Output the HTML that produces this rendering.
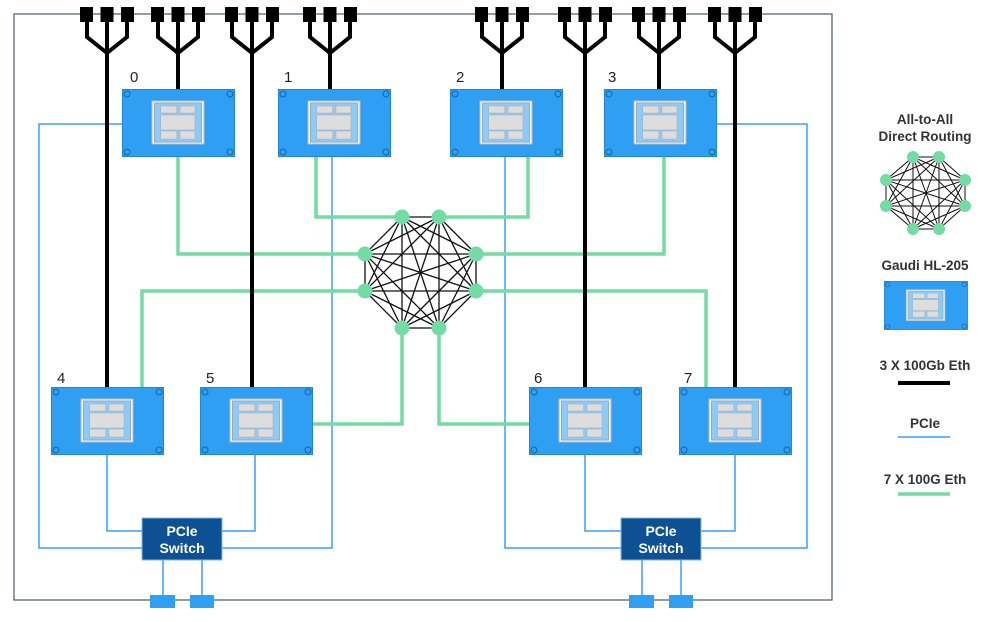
<!DOCTYPE html>
<html><head><meta charset="utf-8"><style>
html,body{margin:0;padding:0;background:#fff}
svg{display:block}
text{font-family:"Liberation Sans",sans-serif}
</style></head><body>
<svg width="999" height="622" viewBox="0 0 999 622" xmlns="http://www.w3.org/2000/svg">
<defs>
<g id="card">
<rect x="0.5" y="0.5" width="112" height="67" fill="#2f9ff4" stroke="#1f86d8" stroke-width="1"/>
<circle cx="5" cy="5" r="3" fill="none" stroke="#1565a8" stroke-width="1"/>
<circle cx="108" cy="5" r="3" fill="none" stroke="#1565a8" stroke-width="1"/>
<circle cx="5" cy="63" r="3" fill="none" stroke="#1565a8" stroke-width="1"/>
<circle cx="108" cy="63" r="3" fill="none" stroke="#1565a8" stroke-width="1"/>
<rect x="30" y="12" width="52" height="43" fill="#f4f4f4" stroke="#bbb"/>
<rect x="32.5" y="14" width="47" height="39" fill="#8ccbf8" stroke="#9ab"/>
<rect x="38.7" y="17" width="16" height="7" fill="#ddd" stroke="#aaa" stroke-width=".5"/>
<rect x="58" y="17" width="15" height="7" fill="#ddd" stroke="#aaa" stroke-width=".5"/>
<rect x="38.7" y="26" width="34.3" height="15" fill="#ddd" stroke="#aaa" stroke-width=".5"/>
<rect x="38.7" y="42" width="16" height="8" fill="#ddd" stroke="#aaa" stroke-width=".5"/>
<rect x="58" y="42" width="15" height="8" fill="#ddd" stroke="#aaa" stroke-width=".5"/>
</g>
<g id="trident" fill="none" stroke="#000" stroke-width="4">
<path d="M-20 14 V37 L0 53 L20 37 V14 M0 14 V53"/>
<rect x="-27" y="7" width="13" height="15" fill="#000" stroke="none"/>
<rect x="-6.5" y="7" width="13" height="15" fill="#000" stroke="none"/>
<rect x="14" y="7" width="13" height="15" fill="#000" stroke="none"/>
</g>
</defs>

<!-- frame -->
<rect x="14" y="14" width="818" height="586" fill="none" stroke="#4a5a68" stroke-width="1.2"/>

<!-- PCIe blue lines -->
<g fill="none" stroke="#3aa0f0" stroke-width="1.5">
<path d="M122 124 H39 V548 H142"/>
<path d="M107 455 V531 H142"/>
<path d="M255 455 V531 H222"/>
<path d="M332 157 V548 H222"/>
<path d="M163 560 V600 M202 560 V600"/>
<path d="M505 157 V548 H621"/>
<path d="M717 124 H807 V548 H701"/>
<path d="M585 455 V531 H621"/>
<path d="M735 455 V531 H701"/>
<path d="M642 560 V600 M681 560 V600"/>
</g>

<!-- green lines -->
<g fill="none" stroke="#72dca2" stroke-width="3.5">
<path d="M178 157 V254 H365"/>
<path d="M316 157 V217 H402"/>
<path d="M528 157 V217 H439"/>
<path d="M664 157 V254 H476"/>
<path d="M142 387 V291 H365"/>
<path d="M313 424 H402 V328"/>
<path d="M529 424 H439 V328"/>
<path d="M706 387 V291 H476"/>
</g>

<!-- black eth lines -->
<g stroke="#000" stroke-width="4">
<line x1="107" y1="53" x2="107" y2="387"/>
<line x1="178" y1="53" x2="178" y2="89"/>
<line x1="252" y1="53" x2="252" y2="387"/>
<line x1="330" y1="53" x2="330" y2="89"/>
<line x1="502" y1="53" x2="502" y2="89"/>
<line x1="585" y1="53" x2="585" y2="387"/>
<line x1="659" y1="53" x2="659" y2="89"/>
<line x1="735" y1="53" x2="735" y2="387"/>
</g>
<use href="#trident" x="107" y="0"/>
<use href="#trident" x="178" y="0"/>
<use href="#trident" x="252" y="0"/>
<use href="#trident" x="330" y="0"/>
<use href="#trident" x="502" y="0"/>
<use href="#trident" x="585" y="0"/>
<use href="#trident" x="659" y="0"/>
<use href="#trident" x="735" y="0"/>

<!-- cards -->
<use href="#card" x="122" y="89"/>
<use href="#card" x="278" y="89"/>
<use href="#card" x="450" y="89"/>
<use href="#card" x="604" y="89"/>
<use href="#card" x="51" y="387"/>
<use href="#card" x="200" y="387"/>
<use href="#card" x="529" y="387"/>
<use href="#card" x="679" y="387"/>
<g font-size="15" fill="#222">
<text x="130" y="82">0</text>
<text x="284" y="82">1</text>
<text x="456" y="82">2</text>
<text x="608" y="82">3</text>
<text x="57" y="383">4</text>
<text x="206" y="383">5</text>
<text x="534" y="383">6</text>
<text x="684" y="383">7</text>
</g>

<!-- switches -->
<g>
<rect x="142" y="518" width="80" height="42" fill="#0d5194" stroke="#7fb8ea"/>
<text x="182" y="536" font-size="14" font-weight="bold" fill="#fff" text-anchor="middle">PCIe</text>
<text x="182" y="553" font-size="14" font-weight="bold" fill="#fff" text-anchor="middle">Switch</text>
<rect x="621" y="518" width="80" height="42" fill="#0d5194" stroke="#7fb8ea"/>
<text x="661" y="536" font-size="14" font-weight="bold" fill="#fff" text-anchor="middle">PCIe</text>
<text x="661" y="553" font-size="14" font-weight="bold" fill="#fff" text-anchor="middle">Switch</text>
<g fill="#2f9ff4">
<rect x="150" y="595" width="25" height="13"/>
<rect x="190" y="595" width="24" height="13"/>
<rect x="629" y="595" width="25" height="13"/>
<rect x="669" y="595" width="24" height="13"/>
</g>
</g>

<!-- main octagon -->
<g stroke="#111" stroke-width="1.3" id="oct">
<path d="M402 217L439 217L476 254L476 291L439 328L402 328L365 291L365 254Z M402 217L476 254 M402 217L476 291 M402 217L439 328 M402 217L402 328 M402 217L365 291 M439 217L476 291 M439 217L439 328 M439 217L402 328 M439 217L365 291 M439 217L365 254 M476 254L439 328 M476 254L402 328 M476 254L365 291 M476 254L365 254 M476 291L402 328 M476 291L365 291 M476 291L365 254 M439 328L365 291 M439 328L365 254 M402 328L365 254" fill="none"/>
</g>
<g fill="#72dca2">
<circle cx="402" cy="217" r="7.5"/><circle cx="439" cy="217" r="7.5"/>
<circle cx="476" cy="254" r="7.5"/><circle cx="476" cy="291" r="7.5"/>
<circle cx="439" cy="328" r="7.5"/><circle cx="402" cy="328" r="7.5"/>
<circle cx="365" cy="291" r="7.5"/><circle cx="365" cy="254" r="7.5"/>
</g>

<!-- legend -->
<g font-size="13.5" fill="#333" font-weight="bold" text-anchor="middle">
<text x="925" y="124">All-to-All</text>
<text x="925" y="141">Direct Routing</text>
<text x="925" y="270">Gaudi HL-205</text>
<text x="925" y="370">3 X 100Gb Eth</text>
<text x="925" y="428">PCIe</text>
<text x="925" y="484">7 X 100G Eth</text>
</g>
<g stroke="#111" stroke-width="1" fill="none">
<path d="M913 157L939 157L965 180L965 206L939 229L913 229L886 206L886 180Z M913 157L965 180 M913 157L965 206 M913 157L939 229 M913 157L913 229 M913 157L886 206 M939 157L965 206 M939 157L939 229 M939 157L913 229 M939 157L886 206 M939 157L886 180 M965 180L939 229 M965 180L913 229 M965 180L886 206 M965 180L886 180 M965 206L913 229 M965 206L886 206 M965 206L886 180 M939 229L886 206 M939 229L886 180 M913 229L886 180"/>
</g>
<g fill="#72dca2">
<circle cx="913" cy="157" r="6"/><circle cx="939" cy="157" r="6"/>
<circle cx="965" cy="180" r="6"/><circle cx="965" cy="206" r="6"/>
<circle cx="939" cy="229" r="6"/><circle cx="913" cy="229" r="6"/>
<circle cx="886" cy="206" r="6"/><circle cx="886" cy="180" r="6"/>
</g>
<g transform="translate(884 281) scale(0.743 0.72)"><use href="#card"/></g>
<line x1="898" y1="383" x2="950" y2="383" stroke="#000" stroke-width="4"/>
<line x1="898" y1="437" x2="950" y2="437" stroke="#3aa0f0" stroke-width="1.5"/>
<line x1="898" y1="494" x2="950" y2="494" stroke="#72dca2" stroke-width="3.5"/>
</svg>
</body></html>
